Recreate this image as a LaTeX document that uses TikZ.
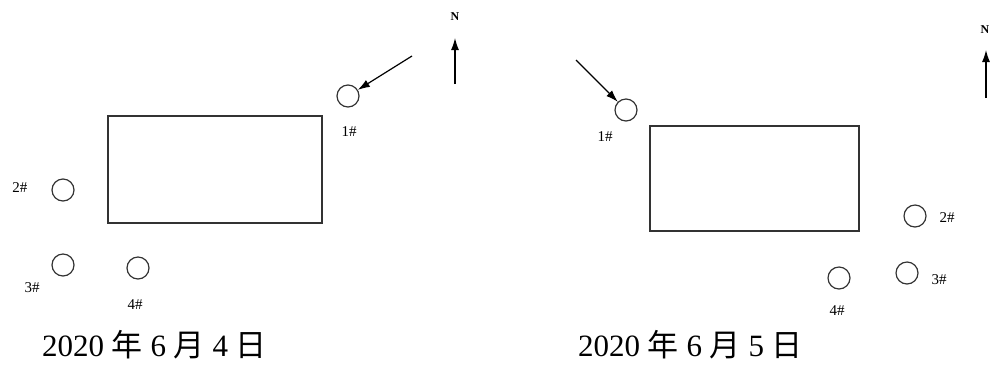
\documentclass[tikz,border=0pt]{standalone}
\usepackage{fontspec}
\setmainfont{Liberation Serif}
\newfontfamily\cjk{Noto Sans CJK SC}
\usetikzlibrary{arrows.meta}
\begin{document}
\begin{tikzpicture}[
    x=1pt, y=-1pt,
    every node/.style={inner sep=0pt},
    well/.style={draw=black!80,line width=1.2pt,circle,minimum size=22pt},
    site/.style={draw=black!80,line width=1.2pt},
    tag/.style={font=\fontsize{15}{15}\selectfont},
    north/.style={font=\fontsize{12}{12}\selectfont\bfseries},
    date/.style={font=\fontsize{31}{31}\selectfont,anchor=base west},
    wind/.style={draw,line width=1.2pt,-{Latex[length=12pt,width=8pt]}}
  ]
  \useasboundingbox (0,0) rectangle (992,376);
  % 6月4日
  \draw[site] (108,116) rectangle (322,223);
  \node[well] (a1) at (348,96) {};
  \node[well] (a2) at (63,190) {};
  \node[well] (a3) at (63,265) {};
  \node[well] (a4) at (138,268) {};
  \node[tag] (a1t) at (349,132) {1\#};
  \node[tag] (a2t) at (20,188) {2\#};
  \node[tag] (a3t) at (32,288) {3\#};
  \node[tag] (a4t) at (135,305) {4\#};
  \coordinate (aw) at (412,56);
  \draw[wind] (aw) -- (a1);
  \coordinate (an0) at (455,84);
  \coordinate (an1) at (455,38);
  \draw[wind] (an0) -- (an1);
  \node[north] (an) at (455,17) {N};
  \node[date] (ad) at (42,356) {2020 {\cjk 年} 6 {\cjk 月} 4 {\cjk 日}};
  % 6月5日
  \draw[site] (650,126) rectangle (859,231);
  \node[well] (b1) at (626,110) {};
  \node[well] (b2) at (915,216) {};
  \node[well] (b3) at (907,273) {};
  \node[well] (b4) at (839,278) {};
  \node[tag] (b1t) at (605,137) {1\#};
  \node[tag] (b2t) at (947,218) {2\#};
  \node[tag] (b3t) at (939,280) {3\#};
  \node[tag] (b4t) at (837,311) {4\#};
  \coordinate (bw) at (576,60);
  \draw[wind] (bw) -- (b1);
  \coordinate (bn0) at (986,98);
  \coordinate (bn1) at (986,50);
  \draw[wind] (bn0) -- (bn1);
  \node[north] (bn) at (985,30) {N};
  \node[date] (bd) at (578,356) {2020 {\cjk 年} 6 {\cjk 月} 5 {\cjk 日}};
\end{tikzpicture}
\end{document}
